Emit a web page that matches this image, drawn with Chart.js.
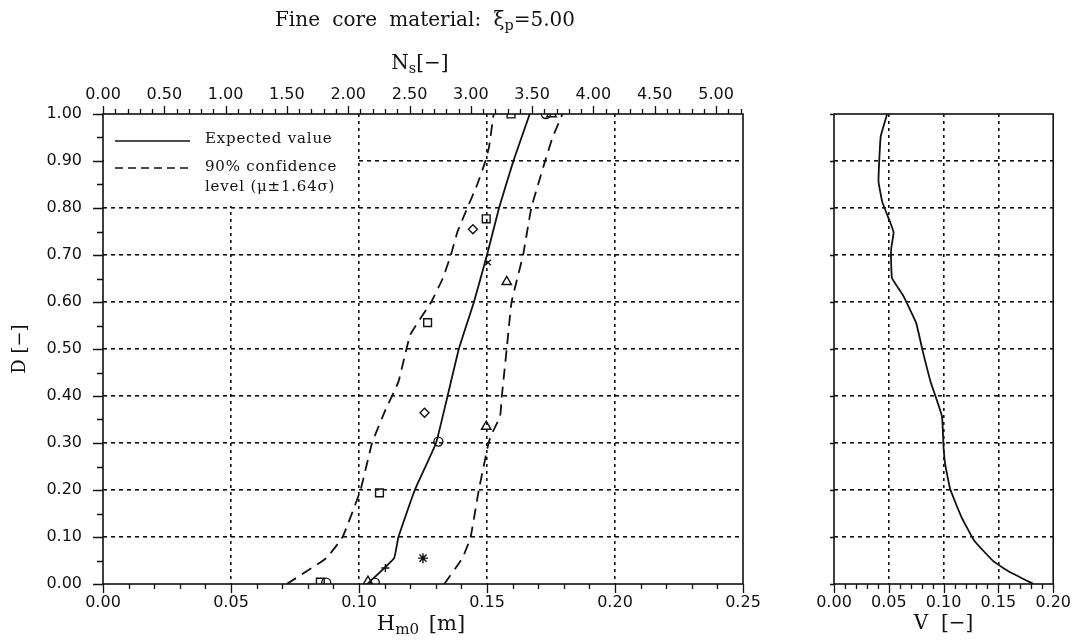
<!DOCTYPE html>
<html><head><meta charset="utf-8">
<script src="https://cdn.jsdelivr.net/npm/chart.js@4.4.1/dist/chart.umd.min.js"></script>
<style>
html,body{margin:0;padding:0;background:#fff;width:1080px;height:640px;overflow:hidden}
#wrap{position:relative;width:1080px;height:640px}
#cA{position:absolute;left:0;top:0}
#cB{position:absolute;left:800px;top:0}
.lbl{position:absolute;font-family:"DejaVu Serif",serif;color:#111;white-space:nowrap;transform:translate(-50%,-50%);line-height:1}
.lbl sub{font-size:72%;vertical-align:-0.3em;line-height:0}
</style></head><body>
<div id="wrap">
<canvas id="cA" width="800" height="640"></canvas>
<canvas id="cB" width="280" height="640"></canvas>
<div class="lbl" style="left:425px;top:19px;font-size:20px;word-spacing:6px">Fine core material: ξ<sub>p</sub>=5.00</div>
<div class="lbl" style="left:420px;top:62px;font-size:20px">N<sub>s</sub>[−]</div>
<div class="lbl" style="left:421px;top:623px;font-size:21px;word-spacing:3px">H<sub>m0</sub> [m]</div>
</div>
<script>
// ---- data ----
const hTicks  = [0, 0.05, 0.10, 0.15, 0.20, 0.25];
const nsTicks = [0, 0.5, 1.0, 1.5, 2.0, 2.5, 3.0, 3.5, 4.0, 4.5, 5.0];
const dTicks  = [0, 0.1, 0.2, 0.3, 0.4, 0.5, 0.6, 0.7, 0.8, 0.9, 1.0];
const vTicks  = [0, 0.05, 0.10, 0.15, 0.20];

const expD = [0, 0.055, 0.1, 0.2, 0.3, 0.4, 0.5, 0.6, 0.7, 0.8, 0.9, 1.0];
const expH = [0.1032, 0.1137, 0.1154, 0.1218, 0.1301, 0.1346, 0.1390, 0.1449, 0.1500, 0.1547, 0.1603, 0.1667];

const lowD = [0, 0.055, 0.1, 0.2, 0.3, 0.37, 0.43, 0.53, 0.6, 0.65, 0.7, 0.75, 0.8, 0.85, 0.9, 0.93, 1.0];
const lowH = [0.0718, 0.0872, 0.0936, 0.1006, 0.1051, 0.1103, 0.1154, 0.1200, 0.1282, 0.1327, 0.1359, 0.1385, 0.1423, 0.1462, 0.1494, 0.1508, 0.1526];

const upD = [0, 0.055, 0.1, 0.2, 0.3, 0.32, 0.356, 0.4, 0.5, 0.6, 0.7, 0.8, 0.9, 0.95, 1.0];
const upH = [0.1333, 0.1404, 0.1436, 0.1468, 0.1506, 0.1519, 0.1551, 0.1558, 0.1577, 0.1596, 0.1641, 0.1673, 0.1727, 0.1756, 0.1795];

const sqH  = [0.1594, 0.1497, 0.1268, 0.1080, 0.0849];
const sqD  = [1.0, 0.777, 0.556, 0.194, 0.004];
const diaH = [0.1445, 0.1256];
const diaD = [0.755, 0.3645];
const cirH = [0.1730, 0.1310, 0.1062, 0.0872];
const cirD = [1.0, 0.303, 0.003, 0.003];
const triH = [0.1752, 0.1577, 0.1497, 0.1035];
const triD = [1.0, 0.643, 0.335, 0.005];
const starH = [0.1250];
const starD = [0.055];
const xH = [0.1504];
const xD = [0.684];
const plusH = [0.1103];
const plusD = [0.034];

const vD = [1.0, 0.952, 0.857, 0.8125, 0.768, 0.748, 0.717, 0.702, 0.651, 0.614, 0.555, 0.496, 0.430, 0.357, 0.290, 0.254, 0.202, 0.143, 0.092, 0.048, 0.026, 0.0];
const vV = [0.0485, 0.0426, 0.0406, 0.0441, 0.0515, 0.0544, 0.0524, 0.0520, 0.0529, 0.0630, 0.0750, 0.0809, 0.0882, 0.0985, 0.1000, 0.1015, 0.1060, 0.1162, 0.1280, 0.1456, 0.1600, 0.1820];

const legendTexts = ['Expected value', '90% confidence', 'level (μ±1.64σ)'];

// ---- helpers ----
const INK = '#111';
const tickFont = {family: '"DejaVu Sans", sans-serif', size: 16};
const pts = (xs, ys) => xs.map((x, i) => ({x: x, y: ys[i]}));
const lineDS = (xs, ys, dash) => ({data: pts(xs, ys), showLine: true, pointRadius: 0, borderColor: INK, borderWidth: 1.8, borderDash: dash, fill: false, tension: 0.1});
const markDS = (xs, ys, style, r) => ({data: pts(xs, ys), showLine: false, pointStyle: style, pointRadius: r, pointBorderColor: INK, pointBackgroundColor: 'rgba(0,0,0,0)', pointBorderWidth: 1.4});
const setTicks = arr => s => { s.ticks = arr.map(v => ({value: v})); };
const innerGrid = (lo, hi) => ctx => (ctx.tick && ctx.tick.value > lo + 1e-9 && ctx.tick.value < hi - 1e-9) ? INK : 'rgba(0,0,0,0)';

function marks(ctx, scale, ticks, sub, majLen, minLen, side) {
  const step = (ticks[1] - ticks[0]) / sub;
  const lo = scale.min, hi = scale.max;
  const n = Math.floor((hi - lo) / step + 1e-6);
  ctx.beginPath();
  for (let i = 0; i <= n; i++) {
    const v = lo + i * step;
    const len = (i % sub === 0) ? majLen : minLen;
    const p = Math.round(scale.getPixelForValue(v)) + 0.5;
    if (side === 'left') { ctx.moveTo(scale.right - len, p); ctx.lineTo(scale.right, p); }
    if (side === 'bottom') { ctx.moveTo(p, scale.top); ctx.lineTo(p, scale.top + len); }
    if (side === 'top') { ctx.moveTo(p, scale.bottom - len); ctx.lineTo(p, scale.bottom); }
  }
  ctx.stroke();
}

const frameA = {
  id: 'frameA',
  beforeDatasetsDraw(chart) {
    const ctx = chart.ctx, a = chart.chartArea;
    ctx.save();
    // legend box
    ctx.fillStyle = '#fff';
    ctx.fillRect(a.left + 1, a.top + 1, 253, 91);
    ctx.strokeStyle = INK; ctx.lineWidth = 1.5;
    ctx.beginPath(); ctx.moveTo(a.left + 12, a.top + 27); ctx.lineTo(a.left + 87, a.top + 27); ctx.stroke();
    ctx.setLineDash([8, 5]);
    ctx.beginPath(); ctx.moveTo(a.left + 12, a.top + 54); ctx.lineTo(a.left + 87, a.top + 54); ctx.stroke();
    ctx.setLineDash([]);
    ctx.fillStyle = INK;
    ctx.font = '15px "DejaVu Serif", serif';
    try { ctx.letterSpacing = '0.8px'; } catch (e) {}
    ctx.textBaseline = 'middle'; ctx.textAlign = 'left';
    ctx.fillText(legendTexts[0], a.left + 102, a.top + 25);
    ctx.fillText(legendTexts[1], a.left + 102, a.top + 53);
    ctx.fillText(legendTexts[2], a.left + 102, a.top + 73);
    ctx.restore();
  },
  afterDraw(chart) {
    const ctx = chart.ctx, a = chart.chartArea;
    ctx.save();
    ctx.strokeStyle = INK; ctx.lineWidth = 1.6;
    ctx.strokeRect(a.left, a.top, a.right - a.left, a.bottom - a.top);
    ctx.lineWidth = 1.3;
    marks(ctx, chart.scales.y, dTicks, 2, 10, 6, 'left');
    marks(ctx, chart.scales.x, hTicks, 5, 9, 5, 'bottom');
    marks(ctx, chart.scales.x2, nsTicks, 5, 8, 5, 'top');
    ctx.restore();
  }
};

const frameB = {
  id: 'frameB',
  afterDraw(chart) {
    const ctx = chart.ctx, a = chart.chartArea;
    ctx.save();
    ctx.strokeStyle = INK; ctx.lineWidth = 1.6;
    ctx.strokeRect(a.left, a.top, a.right - a.left, a.bottom - a.top);
    ctx.lineWidth = 1.3;
    marks(ctx, chart.scales.y, dTicks, 1, 4, 4, 'left');
    marks(ctx, chart.scales.x, vTicks, 5, 9, 5, 'bottom');
    ctx.restore();
  }
};

Chart.defaults.color = INK;

new Chart(document.getElementById('cA'), {
  type: 'scatter',
  data: {datasets: [
    lineDS(expH, expD, []),
    lineDS(lowH, lowD, [11, 7]),
    lineDS(upH, upD, [11, 7]),
    markDS(sqH, sqD, 'rect', 5.5),
    markDS(diaH, diaD, 'rectRot', 4.5),
    markDS(cirH, cirD, 'circle', 4.5),
    markDS(triH, triD, 'triangle', 5.5),
    markDS(starH, starD, 'star', 5),
    markDS(xH, xD, 'crossRot', 4),
    markDS(plusH, plusD, 'cross', 4)
  ]},
  options: {
    responsive: false, animation: false, devicePixelRatio: 1,
    layout: {padding: {left: 0, right: 57, top: 0, bottom: 0}},
    plugins: {legend: {display: false}, tooltip: {enabled: false}},
    scales: {
      x: {
        type: 'linear', position: 'bottom', min: 0, max: 0.25,
        afterBuildTicks: setTicks(hTicks), afterFit: s => { s.height = 56; },
        ticks: {font: tickFont, color: INK, padding: 9, autoSkip: false, maxRotation: 0, callback: v => Number(v).toFixed(2)},
        grid: {drawTicks: false, color: innerGrid(0, 0.25), lineWidth: 1.6},
        border: {display: false, dash: [3, 4]}
      },
      x2: {
        type: 'linear', position: 'top', min: 0, max: 5.22,
        afterBuildTicks: setTicks(nsTicks), afterFit: s => { s.height = 114; },
        ticks: {font: tickFont, color: INK, padding: 10, autoSkip: false, maxRotation: 0, callback: v => Number(v).toFixed(2)},
        grid: {display: false, drawTicks: false, drawOnChartArea: false},
        border: {display: false}
      },
      y: {
        type: 'linear', position: 'left', min: 0, max: 1,
        afterBuildTicks: setTicks(dTicks), afterFit: s => { s.width = 103; },
        ticks: {font: tickFont, color: INK, padding: 21, autoSkip: false, callback: v => Number(v).toFixed(2)},
        grid: {drawTicks: false, color: innerGrid(0, 1), lineWidth: 1.6},
        border: {display: false, dash: [4, 4]},
        title: {display: true, text: 'D [−]', color: INK, font: {family: '"DejaVu Serif", serif', size: 18}, padding: {top: 10, bottom: 0}}
      }
    }
  },
  plugins: [frameA]
});

new Chart(document.getElementById('cB'), {
  type: 'scatter',
  data: {datasets: [lineDS(vV, vD, [])]},
  options: {
    responsive: false, animation: false, devicePixelRatio: 1,
    layout: {padding: {left: 0, right: 11, top: 114, bottom: 0}},
    plugins: {legend: {display: false}, tooltip: {enabled: false}},
    scales: {
      x: {
        type: 'linear', position: 'bottom', min: 0, max: 0.2,
        afterBuildTicks: setTicks(vTicks), afterFit: s => { s.height = 56; },
        ticks: {font: tickFont, color: INK, padding: 9, autoSkip: false, maxRotation: 0, callback: v => Number(v).toFixed(2)},
        grid: {drawTicks: false, color: innerGrid(0, 0.2), lineWidth: 1.6},
        border: {display: false, dash: [3, 4]},
        title: {display: true, text: 'V  [−]', color: INK, font: {family: '"DejaVu Serif", serif', size: 20}, padding: {top: 0, bottom: 4}}
      },
      y: {
        type: 'linear', position: 'left', min: 0, max: 1,
        afterBuildTicks: setTicks(dTicks), afterFit: s => { s.width = 34; },
        ticks: {display: false},
        grid: {drawTicks: false, color: innerGrid(0, 1), lineWidth: 1.6},
        border: {display: false, dash: [4, 4]}
      }
    }
  },
  plugins: [frameB]
});
</script>
</body></html>
